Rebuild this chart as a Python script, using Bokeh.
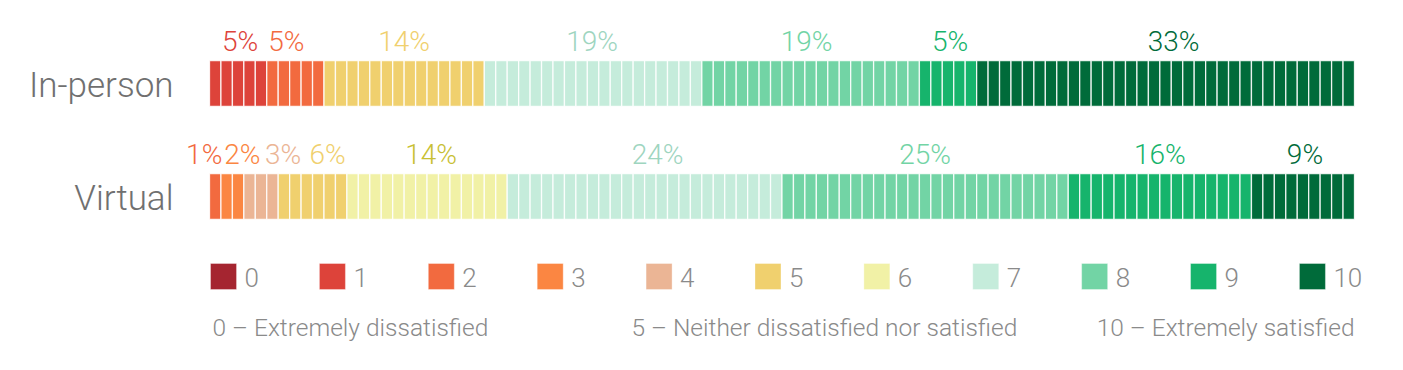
from bokeh.plotting import figure
from bokeh.models import Range1d, ColumnDataSource
from bokeh.core.properties import value
from bokeh.embed import file_html
from bokeh.resources import INLINE

# ---------------- data ----------------
rows = ["In-person", "Virtual"]
scores = ["0", "1", "2", "3", "4", "5", "6", "7", "8", "9", "10"]
in_person = [0, 5, 5, 0, 0, 14, 0, 19, 19, 5, 33]
virtual = [0, 0, 1, 2, 3, 6, 14, 24, 25, 16, 9]
scale_notes = ["0 \u2013 Extremely dissatisfied",
               "5 \u2013 Neither dissatisfied nor satisfied",
               "10 \u2013 Extremely satisfied"]

# ---------------- style ----------------
colors = ["#a52530", "#dd433a", "#f26a3f", "#fb8642", "#ebb595", "#f0d06e",
          "#f1f1a6", "#c5ecdb", "#72d4a5", "#16b46c", "#006b3a"]
label_colors = list(colors)
label_colors[6] = "#c8c034"
label_colors[7] = "#9ed5bf"
label_dx = {  # small pixel nudges to keep neighbouring labels apart
    "In-person": [0, 2, -9, 0, 0, 0, 0, -1, -4, 2, 8],
    "Virtual": [0, 0, -11, 10, 22, 15, 4, 13, 0, 0, 2],
}
FONT = value("Roboto Light, Roboto")
W, H = 1387, 354
px = 11.45           # pixels per percentage point
x0 = 209             # canvas x of 0%
row_y = {"In-person": 83, "Virtual": 196}
bar_h = 46

p = figure(width=W, height=H, output_backend="svg", toolbar_location=None,
           x_range=Range1d(-x0 / px, (W - x0) / px), y_range=Range1d(H, 0),
           x_axis_type=None, y_axis_type=None, min_border=0)
p.outline_line_color = None
p.grid.visible = False
p.background_fill_color = "white"
p.border_fill_color = "white"

data = {"In-person": in_person, "Virtual": virtual}

for r in rows:
    vals = data[r]
    cx, cy, cc = [], [], []
    lx, lt, lc, lo = [], [], [], []
    cum = 0
    for i, v in enumerate(vals):
        for k in range(v):
            cx.append(cum + k + 0.5)
            cy.append(row_y[r])
            cc.append(colors[i])
        if v > 0:
            lx.append(cum + v / 2)
            lt.append(f"{v}%")
            lc.append(label_colors[i])
            lo.append(label_dx[r][i])
        cum += v
    p.rect(x="x", y="y", width=1, height=bar_h, fill_color="c",
           line_color="white", line_width=1.3, line_alpha=0.85,
           source=ColumnDataSource(dict(x=cx, y=cy, c=cc)))
    p.text(x="x", y="y", text="t", text_color="c", x_offset="o",
           source=ColumnDataSource(dict(x=lx, y=[row_y[r] - bar_h / 2 - 19] * len(lx),
                                        t=lt, c=lc, o=lo)),
           text_font=FONT, text_font_size="28px", text_align="center",
           text_baseline="alphabetic")
    p.text(x=[0], y=[row_y[r] + 1.5], text=[r], x_offset=-36,
           text_font=FONT, text_font_size="35px", text_color="#707070",
           text_align="right", text_baseline="alphabetic")

# legend
step = 9.51
leg_x = [i * step + 0.09 for i in range(len(scores))]
p.rect(x=[x + 13 / px for x in leg_x], y=[276] * len(scores), width=26,
       width_units="screen", height=26, fill_color=colors,
       line_color="white", line_alpha=0.35, line_width=1)
p.text(x=leg_x, y=[277] * len(scores), text=scores, x_offset=34,
       text_font=FONT, text_font_size="26px", text_color="#8a8a8a",
       text_align="left", text_baseline="alphabetic")

# scale notes
p.text(x=[0, 53.7, 100], y=[327] * 3, text=scale_notes,
       x_offset=[3, 0, 0], text_align=["left", "center", "right"],
       text_font=FONT, text_font_size="24.5px", text_color="#8a8a8a",
       text_baseline="alphabetic")

open("out.html", "w").write(file_html(p, INLINE))
